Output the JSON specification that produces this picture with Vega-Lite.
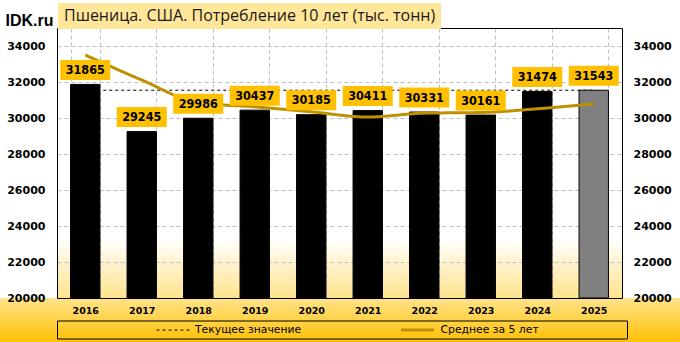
{
  "$schema": "https://vega.github.io/schema/vega-lite/v6.json",
  "width": 565,
  "height": 270,
  "autosize": {"type": "none"},
  "padding": {"left": 57, "top": 28, "right": 58, "bottom": 44},
  "background": "#FFFFFF",
  "data": {
    "values": [
      {"year": "2016", "value": 31865, "Текущее значение": 31543, "Среднее за 5 лет": 33500},
      {"year": "2017", "value": 29245, "Текущее значение": 31543, "Среднее за 5 лет": 32110},
      {"year": "2018", "value": 29986, "Текущее значение": 31543, "Среднее за 5 лет": 30850},
      {"year": "2019", "value": 30437, "Текущее значение": 31543, "Среднее за 5 лет": 30620},
      {"year": "2020", "value": 30185, "Текущее значение": 31543, "Среднее за 5 лет": 30344},
      {"year": "2021", "value": 30411, "Текущее значение": 31543, "Среднее за 5 лет": 30053},
      {"year": "2022", "value": 30331, "Текущее значение": 31543, "Среднее за 5 лет": 30270},
      {"year": "2023", "value": 30161, "Текущее значение": 31543, "Среднее за 5 лет": 30305},
      {"year": "2024", "value": 31474, "Текущее значение": 31543, "Среднее за 5 лет": 30512},
      {"year": "2025", "value": 31543, "Текущее значение": 31543, "Среднее за 5 лет": 30784}
    ]
  },
  "layer": [
    {
      "mark": {"type": "point", "opacity": 0, "filled": true},
      "encoding": {
        "x": {
          "field": "year",
          "type": "ordinal",
          "title": null,
          "axis": {"orient": "top", "labels": false, "grid": false, "domain": true, "title": null, "zindex": 2}
        },
        "y": {
          "field": "value",
          "type": "quantitative",
          "axis": {"orient": "left", "labels": false, "grid": true, "domain": false, "title": null, "zindex": 0}
        },
        "shape": {
          "datum": "Пшеница. США. Потребление 10 лет (тыс. тонн)",
          "type": "nominal",
          "legend": {
            "orient": "none",
            "legendX": 1,
            "legendY": -25,
            "zindex": 3,
            "title": null,
            "fillColor": "#FFE699",
            "padding": 5,
            "symbolSize": 0,
            "symbolOpacity": 0,
            "symbolStrokeWidth": 0,
            "labelOffset": -15,
            "labelFont": "Open Sans",
            "labelFontSize": 16,
            "labelColor": "#1A1A1A",
            "labelLimit": 600
          }
        },
        "stroke": {
          "datum": "bg",
          "type": "nominal",
          "scale": {"range": ["#FFFFFF"]},
          "legend": {
            "orient": "none",
            "legendX": -57,
            "legendY": 270,
            "zindex": 1,
            "padding": 22,
            "title": "\u00a0",
            "titleOrient": "left",
            "titleFontSize": 1,
            "titlePadding": 635,
            "symbolSize": 0,
            "symbolOpacity": 0,
            "symbolStrokeWidth": 0,
            "labelExpr": "''",
            "labelFontSize": 1,
            "labelOffset": 0,
            "strokeColor": null,
            "fillColor": {
              "value": {
                "gradient": "linear",
                "x1": 0, "y1": 0, "x2": 0, "y2": 1,
                "stops": [
                  {"offset": 0, "color": "#FFE38C"},
                  {"offset": 1, "color": "#FFC000"}
                ]
              }
            }
          }
        }
      }
    },
    {
      "transform": [{"fold": ["Текущее значение"], "as": ["series", "v"]}],
      "mark": {"type": "line"},
      "encoding": {
        "x": {
          "field": "year",
          "type": "ordinal",
          "axis": {"orient": "bottom", "labels": false, "grid": true, "domain": false, "title": null, "zindex": 0}
        },
        "y": {
          "field": "v",
          "type": "quantitative",
          "axis": {"orient": "right", "labelPadding": 11, "title": null, "grid": false, "domain": true, "zindex": 2}
        },
        "color": {
          "field": "series",
          "type": "nominal",
          "scale": {"domain": ["Текущее значение", "Среднее за 5 лет"], "range": ["#000000", "#BF9000"]},
          "legend": {
            "orient": "none",
            "legendX": 0,
            "legendY": 292.5,
            "zindex": 3,
            "direction": "horizontal",
            "title": "\u00a0",
            "titleOrient": "right",
            "titlePadding": 86,
            "titleFontSize": 10.5,
            "padding": 2.5,
            "strokeColor": "#000000",
            "symbolType": "M0,0H6",
            "symbolSize": 121,
            "symbolOffset": 91,
            "labelOffset": 32.5,
            "columnPadding": 1.5,
            "labelFont": "DejaVu Sans",
            "labelFontSize": 10.8,
            "labelColor": "#000000",
            "labelLimit": 400
          }
        },
        "strokeDash": {
          "field": "series",
          "type": "nominal",
          "scale": {"domain": ["Текущее значение", "Среднее за 5 лет"], "range": [[3, 3], [1, 0]]}
        },
        "strokeWidth": {
          "field": "series",
          "type": "nominal",
          "scale": {"domain": ["Текущее значение", "Среднее за 5 лет"], "range": [1, 3]}
        }
      }
    },
    {
      "mark": {"type": "bar", "stroke": "#000000", "strokeWidth": 1},
      "encoding": {
        "x": {
          "field": "year",
          "type": "ordinal",
          "scale": {"paddingInner": 0.48, "paddingOuter": 0.24},
          "title": null,
          "axis": {"orient": "bottom", "grid": false, "domain": true, "zindex": 2}
        },
        "y": {
          "field": "value",
          "type": "quantitative",
          "scale": {"domain": [20000, 35000], "zero": false, "nice": false},
          "axis": {
            "orient": "left",
            "grid": false,
            "domain": true,
            "zindex": 2,
            "labelPadding": 12,
            "title": "IDK.ru",
            "titleAngle": 0,
            "titleX": -52,
            "titleY": -3,
            "titleAlign": "left",
            "titleBaseline": "alphabetic",
            "titleFont": "Liberation Sans",
            "titleFontSize": 16,
            "titleFontWeight": "bold",
            "titleColor": "#000000"
          }
        },
        "y2": {"datum": 20000},
        "fill": {
          "condition": {"test": "datum.year == '2025'", "value": "#808080"},
          "value": "#000000"
        }
      }
    },
    {
      "transform": [{"fold": ["Среднее за 5 лет"], "as": ["series", "v"]}],
      "mark": {"type": "line", "interpolate": "monotone"},
      "encoding": {
        "x": {"field": "year", "type": "ordinal", "axis": null},
        "y": {"field": "v", "type": "quantitative", "axis": null},
        "color": {"field": "series", "type": "nominal"},
        "strokeDash": {"field": "series", "type": "nominal"},
        "strokeWidth": {"field": "series", "type": "nominal"}
      }
    },
    {
      "mark": {"type": "point", "filled": true, "fill": "#FFC000", "opacity": 1, "size": 400, "strokeWidth": 0, "shape": "M-2.5,-1H2.5V1H-2.5Z", "yOffset": -14.5},
      "encoding": {
        "x": {"field": "year", "type": "ordinal", "axis": null},
        "y": {"field": "value", "type": "quantitative", "axis": null}
      }
    },
    {
      "mark": {"type": "text", "font": "DejaVu Sans Condensed", "fontWeight": "bold", "fontSize": 12.5, "baseline": "middle", "yOffset": -14.5, "color": "#000000"},
      "encoding": {
        "x": {"field": "year", "type": "ordinal", "axis": null},
        "y": {"field": "value", "type": "quantitative", "axis": null},
        "text": {"field": "value", "type": "quantitative", "format": "d"}
      }
    }
  ],
  "resolve": {"axis": {"x": "independent", "y": "independent"}},
  "config": {
    "view": {
      "stroke": null,
      "fill": {
        "gradient": "linear",
        "x1": 0, "y1": 0, "x2": 0, "y2": 1,
        "stops": [
          {"offset": 0, "color": "#FFFFFF"},
          {"offset": 0.78, "color": "#FFFFFF"},
          {"offset": 1, "color": "#FFE38C"}
        ]
      }
    },
    "axis": {
      "domain": false,
      "domainColor": "#000000",
      "domainWidth": 1,
      "ticks": false,
      "tickSize": 0,
      "gridColor": "#C0C0C0",
      "gridDash": [4, 3],
      "gridWidth": 1,
      "labelColor": "#000000"
    },
    "axisX": {
      "tickBand": "extent",
      "labelAngle": 0,
      "labelFont": "DejaVu Sans",
      "labelFontWeight": "bold",
      "labelFontSize": 9.5,
      "labelPadding": 7
    },
    "axisY": {
      "values": [20000, 22000, 24000, 26000, 28000, 30000, 32000, 34000],
      "labelFont": "DejaVu Sans",
      "labelFontWeight": "bold",
      "labelFontSize": 11,
      "format": "d"
    }
  }
}
